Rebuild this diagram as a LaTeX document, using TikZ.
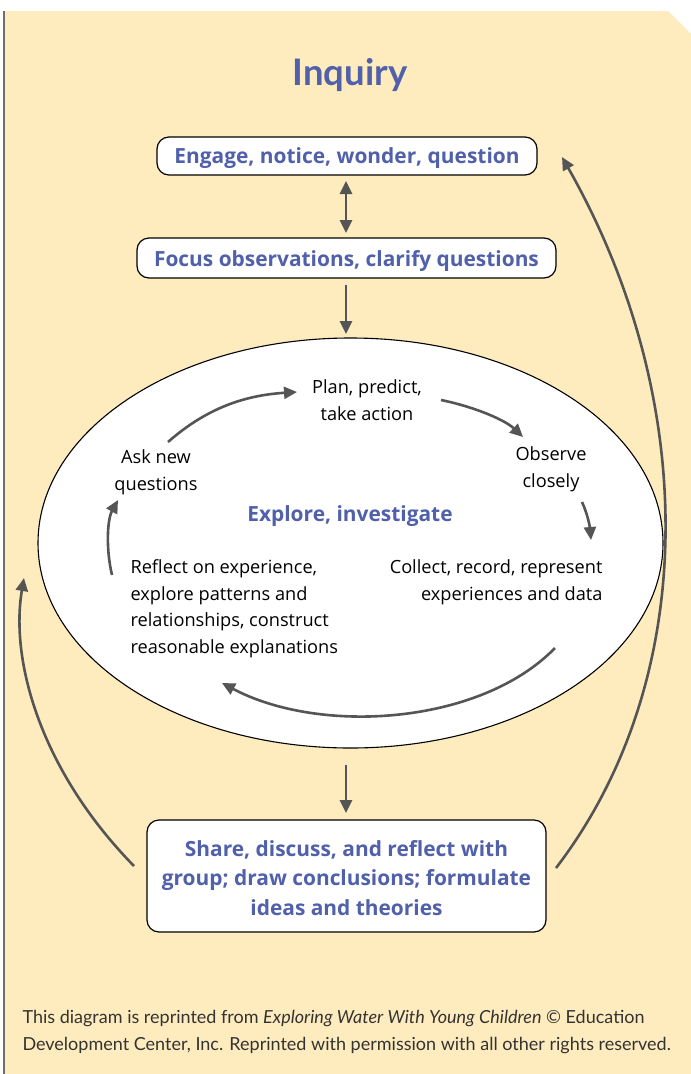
\documentclass[tikz,border=0pt]{standalone}
\usepackage{fontspec}
\setmainfont{Open Sans}
\newfontfamily\latofont{Lato}
\usetikzlibrary{arrows.meta,shapes.geometric}
\definecolor{bgyellow}{RGB}{254,236,190}
\definecolor{txtblue}{RGB}{80,96,170}
\definecolor{arrgray}{RGB}{85,85,85}
\definecolor{edgegray}{RGB}{110,110,110}
\tikzset{
  box/.style={draw=black,line width=1.2pt,fill=white,rounded corners=12pt,inner sep=0pt,minimum height=#1},
  boxtext/.style={text=txtblue,font=\fontsize{20.9}{29.5}\selectfont\bfseries,align=center},
  small/.style={font=\fontsize{18.2}{26.7}\selectfont,text=black},
  conn/.style={draw=arrgray,line width=2.6pt,-{Triangle[length=13pt,width=12pt]}},
  conn2/.style={draw=arrgray,line width=2.6pt,{Triangle[length=13pt,width=12pt]}-{Triangle[length=13pt,width=12pt]}},
  foot/.style={font=\latofont\fontsize{18}{27}\selectfont,text=black!80,align=left,anchor=north west},
}
\begin{document}
\begin{tikzpicture}[x=1pt,y=-1pt]
\useasboundingbox (0,0) rectangle (691,1074);
\fill[white] (0,0) rectangle (691,1074);
\fill[bgyellow] (4,11) -- (668,11) -- (691,34) -- (691,1074) -- (4,1074) -- cycle;
\draw[edgegray,line width=2pt] (4,11) -- (4,1074);

\node[text=txtblue,font=\latofont\fontsize{36.5}{40}\selectfont\bfseries] (title) at (350,75) {Inquiry};

\node[box=38pt,minimum width=380pt] (b1) at (347,156) {};
\node[boxtext] (t1) at (347,158) {Engage, notice, wonder, question};
\node[box=40pt,minimum width=419pt] (b2) at (346.5,258) {};
\node[boxtext] (t2) at (346.5,261) {Focus observations, clarify questions};

\node[ellipse,draw=black,line width=1.1pt,fill=white,minimum width=625pt,minimum height=410pt,inner sep=0pt] (ell) at (350.5,543) {};
\node[text=txtblue,font=\fontsize{20.9}{24}\selectfont\bfseries] (explore) at (350,516) {Explore, investigate};

\node[box=112pt,minimum width=399pt] (b3) at (346.5,876) {};
\node[boxtext] (t3) at (346.5,878) {Share, discuss, and reflect with\\group; draw conclusions; formulate\\ideas and theories};

% inner texts
\node[small,align=center] (plan) at (367,400) {Plan, predict,\\take action};
\node[small,align=center] (obs) at (551,469) {Observe\\closely};
\node[small,align=center] (ask) at (156,472) {Ask new\\questions};
\node[small,align=right,anchor=north east] (coll) at (606,556) {Collect, record, represent\\experiences and data};
\node[small,align=left,anchor=north west] (refl) at (127,556) {Reflect on experience,\\explore patterns and\\relationships, construct\\reasonable explanations};

\node[foot] (footer) at (19,1007) {This diagram is reprinted from \emph{Exploring Water With Young Children} \textcopyright{} Education\\Development Center, Inc. Reprinted with permission with all other rights reserved.};

% coordinates for connector ends
\coordinate (v1s) at (346,181);
\coordinate (v1e) at (346,233);
\coordinate (v2s) at (346,285);
\coordinate (v2e) at (346,334);
\coordinate (v3s) at (346,765);
\coordinate (v3e) at (346,813);
\coordinate (a1s) at (168,442);
\coordinate (a1e) at (297,392);
\coordinate (a2s) at (441,400);
\coordinate (a2e) at (523,437);
\coordinate (a3s) at (582,502);
\coordinate (a3e) at (591,540);
\coordinate (a4s) at (555,648);
\coordinate (a4e) at (222,683);
\coordinate (a5s) at (112,575);
\coordinate (a5e) at (118,500);
\coordinate (rs) at (556,868);
\coordinate (re) at (562,157);
\coordinate (ls) at (134,866);
\coordinate (le) at (24,578);

\draw[conn2] (v1s) -- (v1e);
\draw[conn] (v2s) -- (v2e);
\draw[conn] (v3s) -- (v3e);
\draw[conn] (a1s) .. controls (210,405) and (250,395) .. (a1e);
\draw[conn] (a2s) .. controls (475,407) and (505,420) .. (a2e);
\draw[conn] (a3s) .. controls (588,515) and (590,528) .. (a3e);
\draw[conn] (a4s) .. controls (480,725) and (320,735) .. (a4e);
\draw[conn] (a5s) .. controls (106,550) and (107,520) .. (a5e);
\draw[conn] (rs) .. controls (700,680) and (700,400) .. (re);
\draw[conn] (ls) .. controls (40,770) and (10,660) .. (le);
\end{tikzpicture}
\end{document}
